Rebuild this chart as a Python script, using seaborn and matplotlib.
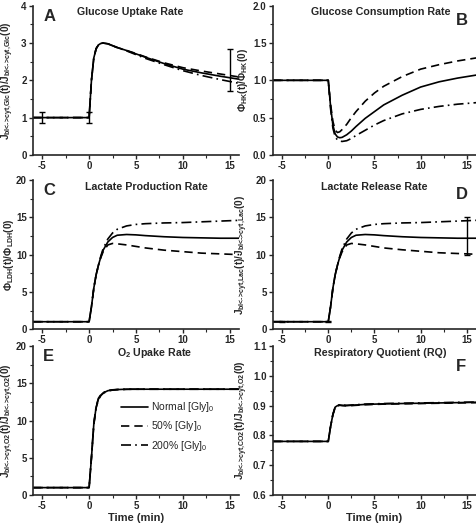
import numpy as np
import pandas as pd
import seaborn as sns
import matplotlib.pyplot as plt
from matplotlib.ticker import MultipleLocator

# shared time grid (min)
t = [-6, -5, 0, 0.25, 0.5, 0.75, 1, 1.25, 1.5, 2, 2.5, 3, 4, 5, 6, 8, 10, 12, 14, 16]

# A - glucose uptake
glc_norm = [1, 1, 1, 2.0, 2.6, 2.85, 2.95, 2.99, 3.0, 2.98, 2.93, 2.88, 2.8, 2.71, 2.62, 2.45, 2.3, 2.2, 2.11, 2.03]
glc_50 = [1, 1, 1, 2.0, 2.6, 2.85, 2.95, 2.99, 3.0, 2.98, 2.93, 2.88, 2.8, 2.72, 2.63, 2.47, 2.34, 2.25, 2.17, 2.09]
glc_200 = [1, 1, 1, 2.0, 2.6, 2.85, 2.95, 2.99, 3.0, 2.98, 2.93, 2.88, 2.79, 2.69, 2.59, 2.42, 2.26, 2.13, 2.02, 1.92]
glc_err_t = [-5, 0, 15]
glc_err_y = [1.0, 1.0, 2.28]
glc_err = [0.15, 0.15, 0.57]

# B - glucose consumption (HK flux)
hk_norm = [1, 1, 1, 0.65, 0.4, 0.28, 0.24, 0.23, 0.235, 0.27, 0.32, 0.38, 0.49, 0.58, 0.67, 0.8, 0.91, 0.98, 1.03, 1.07]
hk_50 = [1, 1, 1, 0.68, 0.45, 0.33, 0.3, 0.31, 0.34, 0.41, 0.5, 0.58, 0.72, 0.83, 0.92, 1.05, 1.15, 1.21, 1.26, 1.3]
hk_200 = [1, 1, 1, 0.62, 0.36, 0.24, 0.2, 0.185, 0.18, 0.19, 0.22, 0.26, 0.33, 0.4, 0.46, 0.55, 0.61, 0.65, 0.68, 0.7]

# C - lactate production (LDH flux)
ldh_norm = [1, 1, 1, 3.0, 5.5, 7.3, 8.6, 9.7, 10.6, 11.7, 12.3, 12.6, 12.7, 12.65, 12.55, 12.4, 12.3, 12.25, 12.2, 12.2]
ldh_50 = [1, 1, 1, 3.0, 5.5, 7.3, 8.6, 9.6, 10.4, 11.3, 11.5, 11.45, 11.3, 11.1, 10.9, 10.6, 10.4, 10.2, 10.1, 10.0]
ldh_200 = [1, 1, 1, 3.0, 5.5, 7.3, 8.6, 9.8, 10.8, 12.1, 12.9, 13.4, 13.85, 14.05, 14.15, 14.25, 14.3, 14.4, 14.5, 14.6]

# D - lactate release
lac_norm = [1, 1, 1, 3.0, 5.5, 7.3, 8.6, 9.7, 10.6, 11.7, 12.3, 12.6, 12.7, 12.65, 12.55, 12.4, 12.3, 12.25, 12.2, 12.2]
lac_50 = [1, 1, 1, 3.0, 5.5, 7.3, 8.6, 9.6, 10.4, 11.3, 11.5, 11.45, 11.3, 11.1, 10.9, 10.65, 10.45, 10.25, 10.15, 10.05]
lac_200 = [1, 1, 1, 3.0, 5.5, 7.3, 8.6, 9.8, 10.8, 12.1, 12.9, 13.4, 13.85, 14.05, 14.15, 14.25, 14.3, 14.4, 14.5, 14.6]
lac_err_t = [-5, 0, 15]
lac_err_y = [1.0, 1.0, 12.5]
lac_err = [0.1, 0.1, 2.5]

# E - O2 uptake
o2_norm = [1, 1, 1, 5.0, 9.5, 11.8, 12.9, 13.4, 13.7, 14.0, 14.1, 14.15, 14.2, 14.2, 14.2, 14.2, 14.2, 14.2, 14.2, 14.2]
o2_50 = [1, 1, 1, 5.0, 9.4, 11.7, 12.8, 13.35, 13.65, 13.95, 14.08, 14.14, 14.18, 14.2, 14.2, 14.2, 14.2, 14.2, 14.2, 14.2]
o2_200 = [1, 1, 1, 5.1, 9.6, 11.9, 13.0, 13.45, 13.75, 14.02, 14.12, 14.16, 14.2, 14.2, 14.2, 14.2, 14.2, 14.2, 14.2, 14.2]

# F - respiratory quotient
rq_norm = [0.78, 0.78, 0.78, 0.83, 0.87, 0.895, 0.9, 0.902, 0.901, 0.9, 0.901, 0.902, 0.904, 0.905, 0.906, 0.907, 0.908, 0.909, 0.91, 0.911]
rq_50 = [0.78, 0.78, 0.78, 0.83, 0.87, 0.894, 0.899, 0.901, 0.9, 0.899, 0.9, 0.901, 0.903, 0.904, 0.905, 0.906, 0.907, 0.908, 0.909, 0.91]
rq_200 = [0.78, 0.78, 0.78, 0.83, 0.87, 0.896, 0.901, 0.903, 0.902, 0.901, 0.902, 0.903, 0.905, 0.906, 0.907, 0.908, 0.909, 0.91, 0.911, 0.912]

series_labels = ["Normal [Gly]$_0$", "50% [Gly]$_0$", "200% [Gly]$_0$"]

sns.set_style("ticks")
plt.rcParams['font.family'] = ['Liberation Sans', 'DejaVu Sans']
plt.rcParams['font.weight'] = 'bold'
plt.rcParams['axes.labelweight'] = 'bold'
plt.rcParams['axes.unicode_minus'] = False
plt.rcParams['mathtext.fontset'] = 'custom'
plt.rcParams['mathtext.rm'] = 'Liberation Sans:bold'
plt.rcParams['mathtext.it'] = 'Liberation Sans:bold'
plt.rcParams['mathtext.bf'] = 'Liberation Sans:bold'
plt.rcParams['mathtext.default'] = 'regular'

fig = plt.figure(figsize=(4.77, 5.25), dpi=100)
lefts = [0.069, 0.572]
widths = [0.432, 0.426]
bottoms = [0.705, 0.373, 0.057]
h = 0.284
label_x = [-0.082, -0.11]

dashes = [None, (5, 3), (6, 2.5, 1, 2.5)]


def jlab(a, b):
    return (r'J$_{\text{bl<->cyt,%s}}$(t)/J$_{\text{bl<->cyt,%s}}$(0)' % (a, b))


panels = [
    dict(data=[glc_norm, glc_50, glc_200], ylim=(0, 4), ystep=1, yfmt='%d',
         ylabel=jlab('Glc', 'Glc'),
         title='Glucose Uptake Rate', tx=0.47, letter='A', lx=0.05, ly=0.93,
         err=(glc_err_t, glc_err_y, glc_err)),
    dict(data=[hk_norm, hk_50, hk_200], ylim=(0, 2), ystep=0.5, yfmt='%.1f',
         ylabel=r'$\Phi_{\text{HK}}$(t)/$\Phi_{\text{HK}}$(0)',
         title='Glucose Consumption Rate', tx=0.53, letter='B', lx=0.9, ly=0.9),
    dict(data=[ldh_norm, ldh_50, ldh_200], ylim=(0, 20), ystep=5, yfmt='%d',
         ylabel=r'$\Phi_{\text{LDH}}$(t)/$\Phi_{\text{LDH}}$(0)',
         title='Lactate Production Rate', tx=0.55, letter='C', lx=0.05, ly=0.93),
    dict(data=[lac_norm, lac_50, lac_200], ylim=(0, 20), ystep=5, yfmt='%d',
         ylabel=jlab('Lac', 'Lac'),
         title='Lactate Release Rate', tx=0.5, letter='D', lx=0.9, ly=0.9,
         err=(lac_err_t, lac_err_y, lac_err)),
    dict(data=[o2_norm, o2_50, o2_200], ylim=(0, 20), ystep=5, yfmt='%d',
         ylabel=jlab('O2', 'O2'),
         title='O$_2$ Upake Rate', tx=0.59, letter='E', lx=0.05, ly=0.93),
    dict(data=[rq_norm, rq_50, rq_200], ylim=(0.6, 1.1), ystep=0.1, yfmt='%.1f',
         ylabel=jlab('CO2', 'O2'),
         title='Respiratory Quotient (RQ)', tx=0.53, letter='F', lx=0.9, ly=0.86),
]

for i, p in enumerate(panels):
    row, col = divmod(i, 2)
    ax = fig.add_axes([lefts[col], bottoms[row], widths[col], h])
    for vals, lab, d in zip(p['data'], series_labels, dashes):
        sns.lineplot(x=t, y=vals, ax=ax, color='black', lw=1.2,
                     label=lab if i == 4 else None)
        if d is not None:
            ax.lines[-1].set_dashes(d)
    if 'err' in p:
        et, ey, ee = p['err']
        ax.errorbar(et, ey, yerr=ee, fmt='none', ecolor='black', elinewidth=1,
                    capsize=2.5, capthick=1)
    ax.set_xlim(-6, 16)
    ax.set_ylim(*p['ylim'])
    ax.xaxis.set_major_locator(MultipleLocator(5))
    ax.xaxis.set_minor_locator(MultipleLocator(2.5))
    ax.yaxis.set_major_locator(MultipleLocator(p['ystep']))
    ax.yaxis.set_minor_locator(MultipleLocator(p['ystep'] / 2))
    ax.yaxis.set_major_formatter(plt.FormatStrFormatter(p['yfmt']))
    ax.tick_params(which='major', direction='out', length=3, width=1, labelsize=7, pad=1.5)
    ax.tick_params(which='minor', direction='out', length=2, width=0.8)
    for s in ['left', 'bottom']:
        ax.spines[s].set_linewidth(1.2)
    sns.despine(ax=ax)
    ax.set_ylabel(p['ylabel'], fontsize=7.2)
    ax.yaxis.set_label_coords(label_x[col], 0.5)
    if row == 2:
        ax.set_xlabel('Time (min)', fontsize=8, labelpad=1.5)
    else:
        ax.set_xlabel('')
    ax.text(p['tx'], 0.955, p['title'], transform=ax.transAxes, ha='center', va='center',
            fontsize=7.7, fontweight='bold')
    ax.text(p['lx'], p['ly'], p['letter'], transform=ax.transAxes, ha='left', va='center',
            fontsize=12, fontweight='bold')
    if i == 4:
        ax.legend(loc='center left', bbox_to_anchor=(0.4, 0.46), frameon=False,
                  prop={'size': 7.5, 'weight': 'normal'}, handlelength=2.6,
                  labelspacing=0.5, borderpad=0, handletextpad=0.3)
    elif ax.get_legend() is not None:
        ax.get_legend().remove()

fig.savefig('out.png', dpi=100)
